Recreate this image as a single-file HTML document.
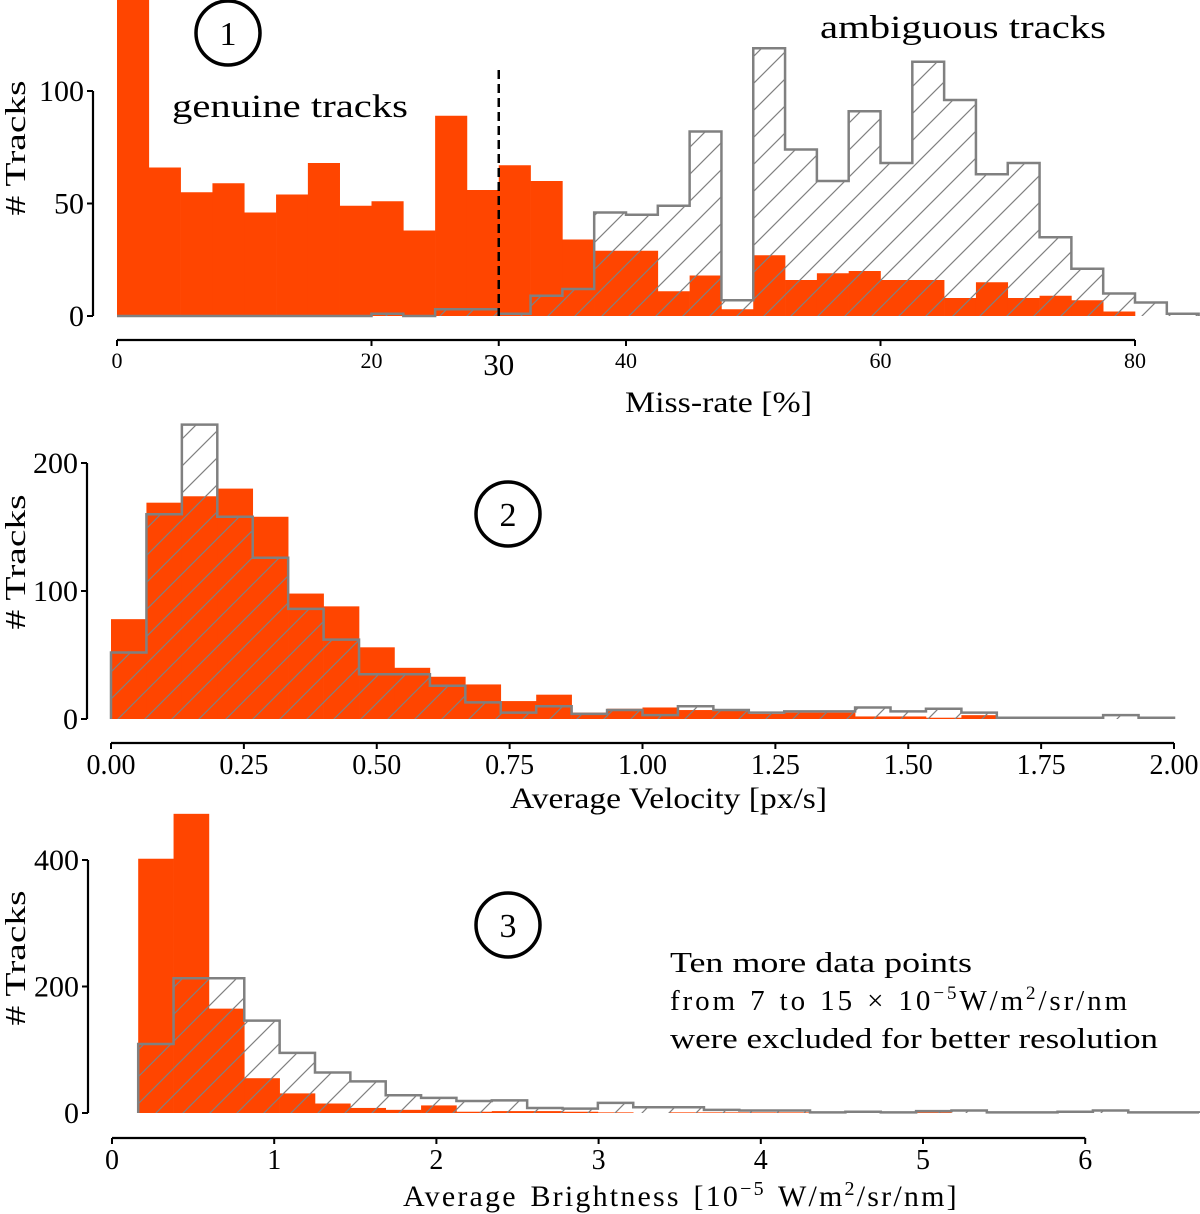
<!DOCTYPE html>
<html><head><meta charset="utf-8">
<style>
html,body{margin:0;padding:0;background:#fff;}
svg{display:block;font-family:"Liberation Serif",serif;}
</style></head>
<body>
<svg id="chart" width="1200" height="1214" viewBox="0 0 1200 1214" xmlns="http://www.w3.org/2000/svg">
<defs>
<pattern id="hatch" patternUnits="userSpaceOnUse" width="27" height="27">
<path d="M-2,29 L29,-2 M-2,2 L2,-2 M25,29 L29,25" stroke="#808080" stroke-width="1.2"/>
</pattern>
<clipPath id="clip1"><rect x="0" y="0" width="1200" height="330"/></clipPath>
</defs>
<g id="p1"></g>
<g id="p2"></g>
<g id="p3"></g>
</svg>
<script>
// Panel 1: miss-rate (bins of 2.5 from 0)
const p1BinStart = 0, p1BinWidth = 2.5;
const p1Genuine = [150,66,55,59,46,54,68,49,51,38,89,56,67,60,34,29,29,11,18,3,27,16,19,20,16,16,8,15,8,9,7,2,0,0];
const p1Ambiguous = [0,0,0,0,0,0,0,0,1,0,3,3,1,9,12,46,45,49,82,7,119,74,60,91,68,113,96,63,68,35,21,10,6,1];
const p1XTicks = [0,20,40,60,80];
const p1YTicks = [0,50,100];
// Panel 2: velocity (30 bins from 0 to 2)
const p2BinStart = 0, p2BinWidth = 2/30;
const p2Genuine = [78,169,174,180,158,98,88,56,40,33,27,14,19,5,8,9,7,7,4,5,5,2,2,1,3,0,0,0,0,0];
const p2Ambiguous = [52,160,230,158,126,86,62,35,35,26,13,5,10,4,7,3,10,7,5,6,6,9,6,8,5,1,1,1,3,1];
const p2XTicks = [0,0.25,0.5,0.75,1.0,1.25,1.5,1.75,2.0];
const p2YTicks = [0,100,200];
// Panel 3: brightness
const p3BinStart = 0.1615, p3BinWidth = 0.218;
const p3Genuine = [402,473,165,55,31,15,8,5,12,2,3,3,2,1,0,1,1,1,1,0,0,0,1,0,0,0,0,0,0,0];
const p3Ambiguous = [109,213,213,146,95,64,50,28,24,19,20,8,7,16,9,9,5,4,4,1,2,1,3,4,1,1,2,4,1,1];
const p3XTicks = [0,1,2,3,4,5,6];
const p3YTicks = [0,200,400];

const NS = "http://www.w3.org/2000/svg";
function mk(tag, attrs, parent, text){
  const e = document.createElementNS(NS, tag);
  for (const k in attrs) e.setAttribute(k, attrs[k]);
  if (text !== undefined) e.textContent = text;
  parent.appendChild(e);
  return e;
}

function drawPanel(g, cfg){
  const xs = v => cfg.x0 + v*cfg.xk;
  const ys = v => cfg.y0 - v*cfg.yk;
  const layer = mk('g', cfg.clip ? {'clip-path':'url(#clip1)'} : {}, g);
  cfg.gen.forEach((v,i)=>{
    if (v <= 0) return;
    const a = xs(cfg.bs + i*cfg.bw), b = xs(cfg.bs + (i+1)*cfg.bw);
    const r = mk('rect', {x:a, y:ys(v), width:b-a+0.3, height:cfg.y0-ys(v), fill:'#ff4500'}, layer);
    
    
  });
  let d = 'M' + xs(cfg.bs) + ',' + cfg.y0;
  cfg.amb.forEach((v,i)=>{
    const a = xs(cfg.bs + i*cfg.bw), b = xs(cfg.bs + (i+1)*cfg.bw);
    d += ' L' + a + ',' + ys(v) + ' L' + b + ',' + ys(v);
  });
  d += ' L' + xs(cfg.bs + cfg.amb.length*cfg.bw) + ',' + cfg.y0;
  const hf = mk('path', {d: d + ' Z', fill:'url(#hatch)', stroke:'none'}, layer);
  
  
  const hl = mk('path', {d: d, fill:'none', stroke:'#808080', 'stroke-width':2.5}, layer);
  
  
  const yAx = mk('g', {}, g);
  
  
  const yt = cfg.yt;
  mk('line', {x1:cfg.sx, x2:cfg.sx, y1:ys(yt[yt.length-1]), y2:ys(yt[0]), stroke:'#000', 'stroke-width':2.2}, yAx);
  yt.forEach(t=>{
    mk('line', {x1:cfg.sx-6, x2:cfg.sx, y1:ys(t), y2:ys(t), stroke:'#000', 'stroke-width':2}, yAx);
    const tl = mk('text', {x:cfg.sx-9, y:ys(t)+10, 'text-anchor':'end', 'font-size':30}, yAx, String(t));
    
    
  });
  const ylab = mk('text', {x:0, y:0, 'text-anchor':'middle', 'font-size':29, textLength:135, lengthAdjust:'spacingAndGlyphs', transform:'translate(25,'+cfg.ylabY+') rotate(-90)'}, yAx, '# Tracks');
  
  
  const xAx = mk('g', {}, g);
  
  
  const xt = cfg.xt;
  mk('line', {x1:xs(xt[0]), x2:xs(xt[xt.length-1]), y1:cfg.sy, y2:cfg.sy, stroke:'#000', 'stroke-width':2.2}, xAx);
  xt.forEach(t=>{
    mk('line', {x1:xs(t), x2:xs(t), y1:cfg.sy, y2:cfg.sy+6, stroke:'#000', 'stroke-width':2}, xAx);
    const tl = mk('text', {x:xs(t), y:cfg.sy+cfg.tlOff, 'text-anchor':'middle', 'font-size':cfg.tfs}, xAx, cfg.fmt(t));
    
    
  });
  return {xs, ys, xAx};
}

const p1 = document.getElementById('p1');
const r1 = drawPanel(p1, {x0:117, xk:12.725, y0:316, yk:2.25, bs:p1BinStart, bw:p1BinWidth,
  gen:p1Genuine, amb:p1Ambiguous, xt:p1XTicks, yt:p1YTicks, sx:93, sy:340, tlOff:28, tfs:22,
  fmt:t=>String(t), ylabY:148, clip:true});
mk('line', {x1:r1.xs(30), x2:r1.xs(30), y1:340, y2:346, stroke:'#000','stroke-width':2}, r1.xAx);
const t30 = mk('text', {x:r1.xs(30), y:375, 'text-anchor':'middle','font-size':31}, r1.xAx, '30');


const dl = mk('line', {x1:r1.xs(30), x2:r1.xs(30), y1:70, y2:316, stroke:'#000','stroke-width':2.5,'stroke-dasharray':'9,5'}, p1);


const xl1 = mk('text', {x:625, y:412, 'font-size':30, textLength:187, lengthAdjust:'spacingAndGlyphs'}, p1, 'Miss-rate [%]');


const gt = mk('text', {x:172, y:117, 'font-size':33, textLength:236, lengthAdjust:'spacingAndGlyphs'}, p1, 'genuine tracks');


const at = mk('text', {x:820, y:38, 'font-size':33, textLength:286, lengthAdjust:'spacingAndGlyphs'}, p1, 'ambiguous tracks');



const p2 = document.getElementById('p2');
drawPanel(p2, {x0:111, xk:531.5, y0:719, yk:1.28, bs:p2BinStart, bw:p2BinWidth,
  gen:p2Genuine, amb:p2Ambiguous, xt:p2XTicks, yt:p2YTicks, sx:87, sy:743, tlOff:31, tfs:28,
  fmt:t=>t.toFixed(2), ylabY:562, clip:false});
const xl2 = mk('text', {x:510, y:808, 'font-size':30, textLength:317, lengthAdjust:'spacingAndGlyphs'}, p2, 'Average Velocity [px/s]');



const p3 = document.getElementById('p3');
drawPanel(p3, {x0:112, xk:162.2, y0:1113, yk:0.6325, bs:p3BinStart, bw:p3BinWidth,
  gen:p3Genuine, amb:p3Ambiguous, xt:p3XTicks, yt:p3YTicks, sx:88, sy:1138, tlOff:31, tfs:28,
  fmt:t=>String(t), ylabY:958, clip:false});
const xl3 = mk('text', {x:403, y:1206, 'font-size':30, 'word-spacing':'3px', 'letter-spacing':'2.2px'}, p3, '');
xl3.innerHTML = 'Average Brightness [10<tspan dy="-11" font-size="20">−5</tspan><tspan dy="11"> W/m</tspan><tspan dy="-11" font-size="20">2</tspan><tspan dy="11">/sr/nm]</tspan>';


const note = mk('g', {}, p3);


mk('text', {x:670, y:972, 'font-size':29, textLength:302, lengthAdjust:'spacingAndGlyphs'}, note, 'Ten more data points');
const n2 = mk('text', {x:670, y:1010, 'font-size':29, 'letter-spacing':'2.9px', 'word-spacing':'2px'}, note, '');
n2.innerHTML = 'from 7 to 15 × 10<tspan dy="-11" font-size="19">−5</tspan><tspan dy="11">W/m</tspan><tspan dy="-11" font-size="19">2</tspan><tspan dy="11">/sr/nm</tspan>';
mk('text', {x:670, y:1048, 'font-size':29, textLength:488, lengthAdjust:'spacingAndGlyphs'}, note, 'were excluded for better resolution');

[[228,33,'1'],[508,514,'2'],[508,925,'3']].forEach(c=>{
  const g = mk('g', {}, document.getElementById('chart'));
  
  
  mk('ellipse', {cx:c[0], cy:c[1], rx:32, ry:32, fill:'none', stroke:'#000','stroke-width':3.5}, g);
  mk('text', {x:c[0], y:c[1]+12, 'text-anchor':'middle','font-size':34}, g, c[2]);
});
</script>
</body></html>
